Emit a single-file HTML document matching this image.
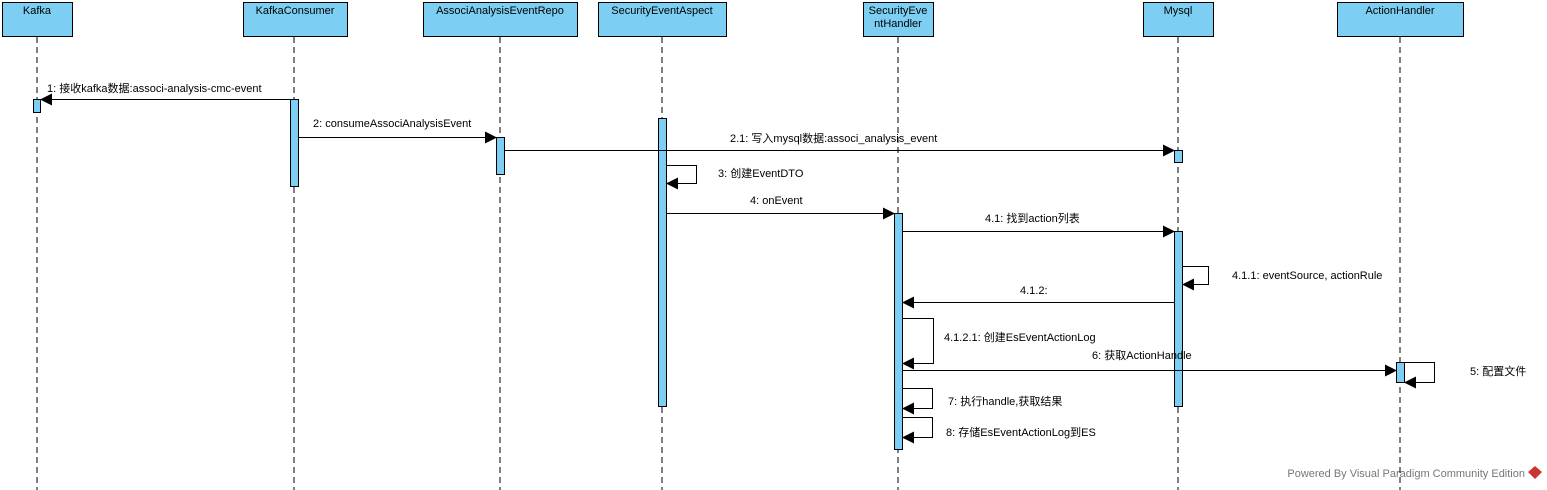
<!DOCTYPE html>
<html><head><meta charset="utf-8"><style>
html,body{margin:0;padding:0;background:#fff;}
svg{display:block;font-family:"Liberation Sans","Noto Sans CJK SC",sans-serif;font-size:11px;}
</style></head><body>
<svg width="1547" height="490" xmlns="http://www.w3.org/2000/svg">
<defs>
<marker id="a" markerWidth="12" markerHeight="12" refX="11" refY="6" orient="auto" markerUnits="userSpaceOnUse">
<path d="M0,0 L12,6 L0,12 Z" fill="#000"/></marker>
</defs>
<g stroke="#000" stroke-dasharray="6,4" stroke-width="1">
<line x1="37" y1="37" x2="37" y2="490"/>
<line x1="294" y1="37" x2="294" y2="490"/>
<line x1="500" y1="37" x2="500" y2="490"/>
<line x1="662" y1="37" x2="662" y2="490"/>
<line x1="898" y1="37" x2="898" y2="490"/>
<line x1="1178" y1="37" x2="1178" y2="490"/>
<line x1="1400" y1="37" x2="1400" y2="490"/>
</g>
<g fill="#7ccff3" stroke="#000" stroke-width="1">
<rect x="2.5" y="2.5" width="70" height="34"/>
<rect x="243.5" y="2.5" width="104" height="34"/>
<rect x="423.5" y="2.5" width="154" height="34"/>
<rect x="598.5" y="2.5" width="128" height="34"/>
<rect x="863.5" y="2.5" width="70" height="34"/>
<rect x="1143.5" y="2.5" width="70" height="34"/>
<rect x="1337.5" y="2.5" width="126" height="34"/>
</g>
<g text-anchor="middle">
<text x="37" y="14">Kafka</text>
<text x="295" y="14">KafkaConsumer</text>
<text x="500" y="14">AssociAnalysisEventRepo</text>
<text x="662" y="14">SecurityEventAspect</text>
<text x="898" y="14">SecurityEve</text>
<text x="898" y="27">ntHandler</text>
<text x="1178" y="14">Mysql</text>
<text x="1400" y="14">ActionHandler</text>
</g>
<g fill="#7ccff3" stroke="#000" stroke-width="1">
<rect x="33.5" y="99.5" width="7" height="13"/>
<rect x="290.5" y="99.5" width="8" height="87"/>
<rect x="496.5" y="137.5" width="8" height="37"/>
<rect x="1174.5" y="150.5" width="8" height="12"/>
<rect x="658.5" y="118.5" width="8" height="288"/>
<rect x="894.5" y="213.5" width="8" height="236"/>
<rect x="1174.5" y="231.5" width="8" height="175"/>
<rect x="1396.5" y="362.5" width="8" height="20"/>
</g>
<g stroke="#000" stroke-width="1" fill="none" marker-end="url(#a)">
<line x1="290" y1="99.5" x2="41" y2="99.5"/>
<line x1="299" y1="137.5" x2="496" y2="137.5"/>
<line x1="505" y1="150.5" x2="1174" y2="150.5"/>
<path d="M667,165.5 H696.5 V183.5 H667"/>
<line x1="667" y1="213.5" x2="894" y2="213.5"/>
<line x1="903" y1="231.5" x2="1174" y2="231.5"/>
<path d="M1183,266.5 H1208.5 V284.5 H1183"/>
<line x1="1174" y1="302.5" x2="903" y2="302.5"/>
<path d="M903,318.5 H933.5 V363.5 H903"/>
<line x1="903" y1="370.5" x2="1396" y2="370.5"/>
<path d="M1405,362.5 H1434.5 V382.5 H1405"/>
<path d="M903,388.5 H932.5 V408.5 H903"/>
<path d="M903,417.5 H932.5 V437.5 H903"/>
</g>
<g>
<text x="47" y="92">1: 接收kafka数据:associ-analysis-cmc-event</text>
<text x="313" y="127">2: consumeAssociAnalysisEvent</text>
<text x="730" y="142">2.1: 写入mysql数据:associ_analysis_event</text>
<text x="718" y="177">3: 创建EventDTO</text>
<text x="750" y="204">4: onEvent</text>
<text x="985" y="222">4.1: 找到action列表</text>
<text x="1232" y="279">4.1.1: eventSource, actionRule</text>
<text x="1020" y="294">4.1.2:</text>
<text x="944" y="341">4.1.2.1: 创建EsEventActionLog</text>
<text x="1092" y="359">6: 获取ActionHandle</text>
<text x="1470" y="375">5: 配置文件</text>
<text x="948" y="405">7: 执行handle,获取结果</text>
<text x="946" y="436">8: 存储EsEventActionLog到ES</text>
<text x="1525" y="477" text-anchor="end" fill="#777">Powered By Visual Paradigm Community Edition</text>
</g>
<path d="M1535,466 L1542,472 L1535,479 L1528,472 Z" fill="#c33"/>
</svg>
</body></html>
